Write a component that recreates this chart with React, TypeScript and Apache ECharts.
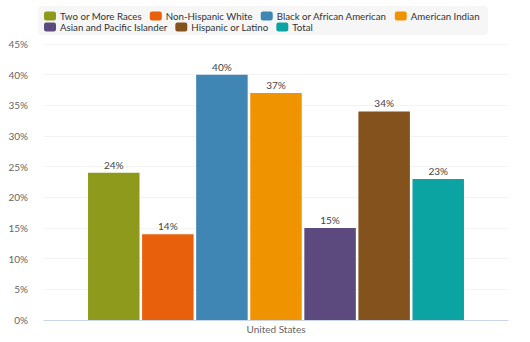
import React, { useEffect, useRef } from "react";
import * as echarts from "echarts";

const categories = ["United States"];
const seriesNames = [
  "Two or More Races",
  "Non-Hispanic White",
  "Black or African American",
  "American Indian",
  "Asian and Pacific Islander",
  "Hispanic or Latino",
  "Total",
];
const seriesValues = [24, 14, 40, 37, 15, 34, 23];
const seriesColors = ["#8e9a1c", "#e8600c", "#3f86b5", "#f09300", "#5c4a7e", "#84531d", "#0ba4a3"];
const yTicks = { min: 0, max: 45, interval: 5 };

const FONT = "Lato, 'Open Sans', sans-serif";

export default function App() {
  const ref = useRef<HTMLDivElement>(null);
  useEffect(() => {
    if (!ref.current) return;
    const chart = echarts.init(ref.current, undefined, { renderer: "svg" });
    const legendCommon = {
      orient: "horizontal",
      left: 44,
      padding: 0,
      itemWidth: 12,
      itemHeight: 9,
      itemGap: 8,
      icon: "roundRect",
      textStyle: { fontSize: 9.7, lineHeight: 10, color: "#333", fontFamily: FONT, padding: [0, 0, 0, -1] },
    };
    chart.setOption({
      animation: false,
      textStyle: { fontFamily: FONT },
      graphic: [
        {
          type: "rect",
          z: -10,
          shape: { x: 38, y: 6, width: 450, height: 29, r: 4 },
          style: { fill: "#f6f6f6" },
        },
      ],
      legend: [
        { ...legendCommon, top: 11, data: seriesNames.slice(0, 4) },
        { ...legendCommon, top: 22, data: seriesNames.slice(4) },
      ],
      grid: { left: 44, right: 22, top: 44, bottom: 22 },
      xAxis: {
        type: "category",
        data: categories,
        axisLine: { lineStyle: { color: "#ccd6eb" } },
        axisTick: { show: false },
        axisLabel: { color: "#666", fontSize: 10, margin: 4, fontFamily: FONT },
      },
      yAxis: {
        type: "value",
        min: yTicks.min,
        max: yTicks.max,
        interval: yTicks.interval,
        axisLabel: {
          color: "#666",
          fontSize: 10,
          margin: 16,
          fontFamily: FONT,
          formatter: (v: number) => v + "%",
        },
        splitLine: { lineStyle: { color: "#f3f3f3" } },
        axisLine: { show: false },
        axisTick: { show: false },
      },
      series: seriesNames.map((name, i) => ({
        name,
        type: "bar",
        data: [seriesValues[i]],
        barWidth: 51.5,
        barGap: "5%",
        itemStyle: { color: seriesColors[i] },
        label: {
          show: true,
          position: "top",
          distance: 3,
          fontSize: 10,
          color: "#444",
          fontFamily: FONT,
          formatter: (p: any) => p.value + "%",
        },
      })),
    });
    return () => chart.dispose();
  }, []);
  return <div ref={ref} style={{ width: 530, height: 342, position: "absolute", left: 0, top: 0 }} />;
}
